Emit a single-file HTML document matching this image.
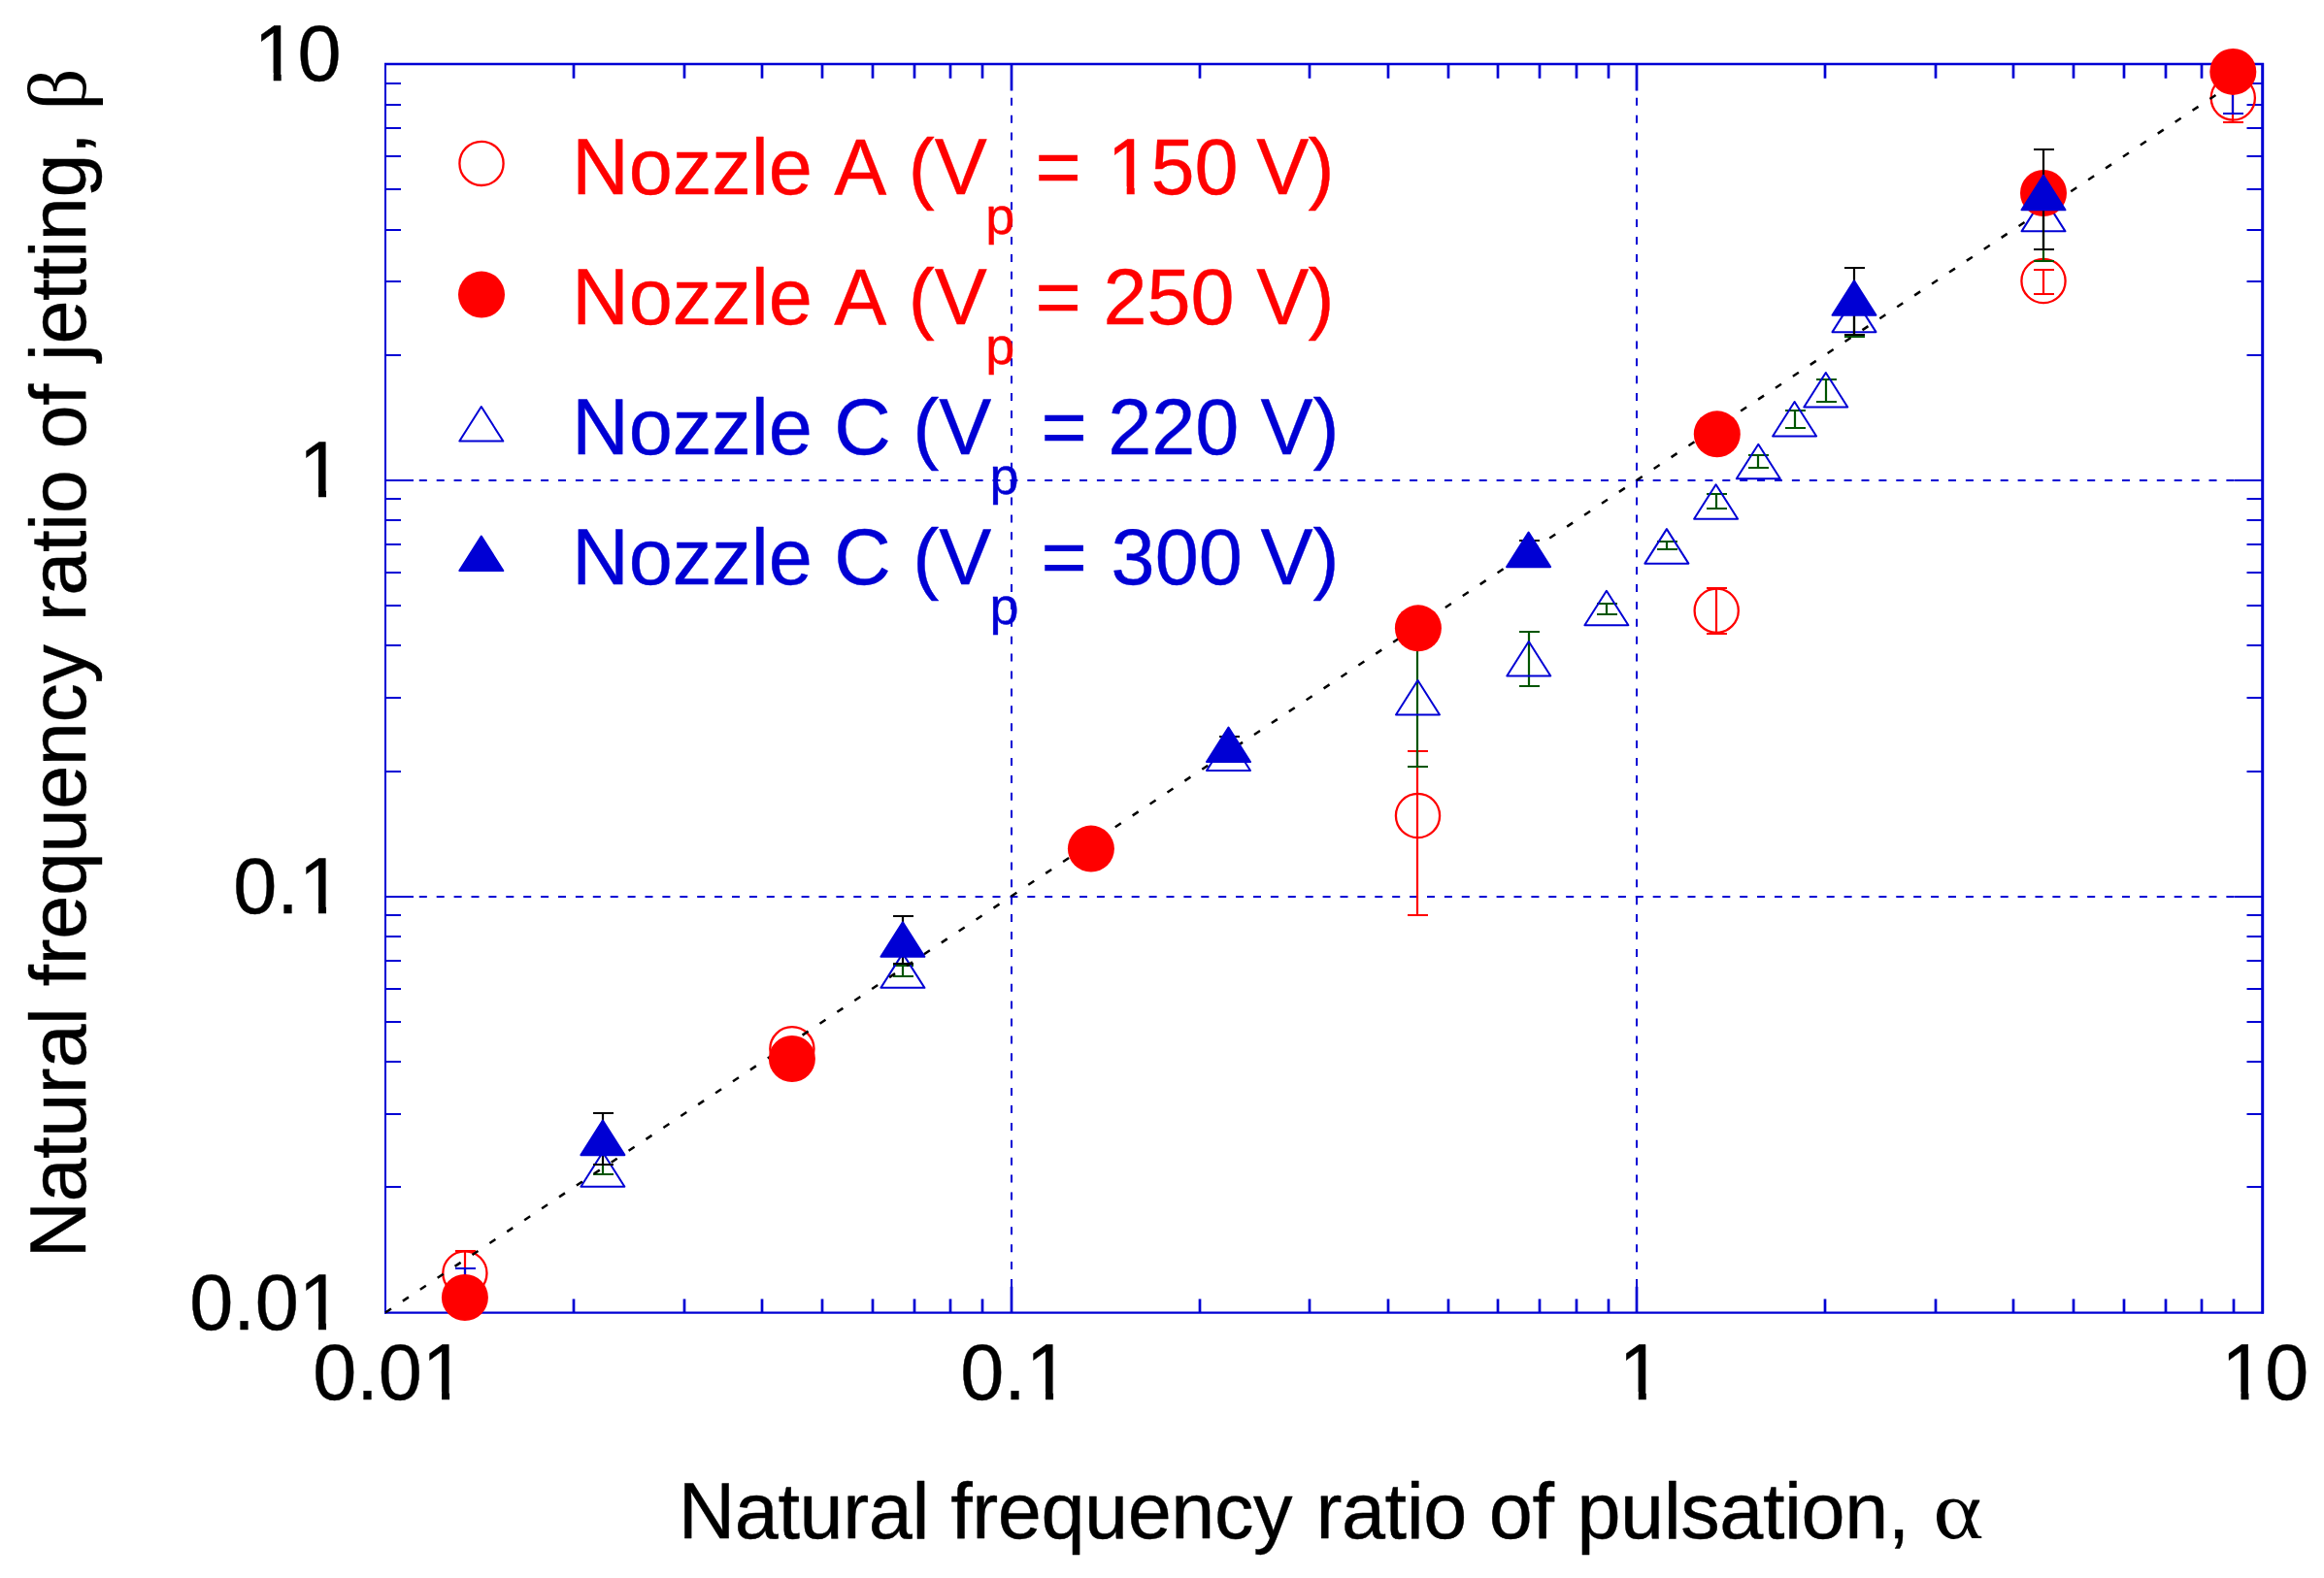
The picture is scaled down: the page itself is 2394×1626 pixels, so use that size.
<!DOCTYPE html>
<html><head><meta charset="utf-8"><title>Natural frequency ratio</title>
<style>
html,body{margin:0;padding:0;background:#fff;}
svg{display:block;}
text{font-family:"Liberation Sans",sans-serif;font-size:81px;font-kerning:none;stroke:#000;stroke-width:0.4px;stroke-linejoin:round;}
.sym{font-family:"Liberation Serif",serif;}
.sub{font-size:54px;}
</style></head><body>
<svg width="2394" height="1626" viewBox="0 0 2394 1626">
<rect width="2394" height="1626" fill="#fff"/>
<g stroke="#0000D4" stroke-width="2" stroke-dasharray="8 9.9" fill="none">
<line x1="1042.0" y1="66.0" x2="1042.0" y2="1352.5" stroke-dashoffset="1"/>
<line x1="397.0" y1="495.0" x2="2330.5" y2="495.0" stroke-dashoffset="1"/>
<line x1="1686.0" y1="66.0" x2="1686.0" y2="1352.5" stroke-dashoffset="1"/>
<line x1="397.0" y1="924.0" x2="2330.5" y2="924.0" stroke-dashoffset="1"/>
</g>
<g stroke="#0000D4" fill="none">
<path d="M397.0,65.0V1353.5" stroke-width="2"/>
<path d="M396.0,66.0H2332.0" stroke-width="2.3"/>
<path d="M396.0,1352.7H2332.0" stroke-width="2.3"/>
<path d="M2330.7,65.0V1353.5" stroke-width="3"/>
<path d="M591.0,66.0v14.7M591.0,1352.5v-14.0M705.0,66.0v14.7M705.0,1352.5v-14.0M785.0,66.0v14.7M785.0,1352.5v-14.0M847.0,66.0v14.7M847.0,1352.5v-14.0M899.0,66.0v14.7M899.0,1352.5v-14.0M942.0,66.0v14.7M942.0,1352.5v-14.0M979.0,66.0v14.7M979.0,1352.5v-14.0M1012.0,66.0v14.7M1012.0,1352.5v-14.0M1042.0,66.0v27.5M1042.0,1352.5v-26.8M1236.0,66.0v14.7M1236.0,1352.5v-14.0M1349.0,66.0v14.7M1349.0,1352.5v-14.0M1430.0,66.0v14.7M1430.0,1352.5v-14.0M1492.0,66.0v14.7M1492.0,1352.5v-14.0M1543.0,66.0v14.7M1543.0,1352.5v-14.0M1586.0,66.0v14.7M1586.0,1352.5v-14.0M1624.0,66.0v14.7M1624.0,1352.5v-14.0M1657.0,66.0v14.7M1657.0,1352.5v-14.0M1686.0,66.0v27.5M1686.0,1352.5v-26.8M1880.0,66.0v14.7M1880.0,1352.5v-14.0M1994.0,66.0v14.7M1994.0,1352.5v-14.0M2074.0,66.0v14.7M2074.0,1352.5v-14.0M2136.0,66.0v14.7M2136.0,1352.5v-14.0M2188.0,66.0v14.7M2188.0,1352.5v-14.0M2231.0,66.0v14.7M2231.0,1352.5v-14.0M2268.0,66.0v14.7M2268.0,1352.5v-14.0M2301.0,66.0v14.7M2301.0,1352.5v-14.0" stroke-width="2.7"/>
<path d="M397.0,1223.0h16M2330.5,1223.0h-16M397.0,1148.0h16M2330.5,1148.0h-16M397.0,1094.0h16M2330.5,1094.0h-16M397.0,1053.0h16M2330.5,1053.0h-16M397.0,1019.0h16M2330.5,1019.0h-16M397.0,990.0h16M2330.5,990.0h-16M397.0,965.0h16M2330.5,965.0h-16M397.0,943.0h16M2330.5,943.0h-16M397.0,924.0h29M2330.5,924.0h-29M397.0,795.0h16M2330.5,795.0h-16M397.0,719.0h16M2330.5,719.0h-16M397.0,665.0h16M2330.5,665.0h-16M397.0,624.0h16M2330.5,624.0h-16M397.0,590.0h16M2330.5,590.0h-16M397.0,561.0h16M2330.5,561.0h-16M397.0,536.0h16M2330.5,536.0h-16M397.0,514.0h16M2330.5,514.0h-16M397.0,495.0h29M2330.5,495.0h-29M397.0,366.0h16M2330.5,366.0h-16M397.0,290.0h16M2330.5,290.0h-16M397.0,237.0h16M2330.5,237.0h-16M397.0,195.0h16M2330.5,195.0h-16M397.0,161.0h16M2330.5,161.0h-16M397.0,132.0h16M2330.5,132.0h-16M397.0,108.0h16M2330.5,108.0h-16M397.0,86.0h16M2330.5,86.0h-16" stroke-width="2"/>
</g>
<text x="352.8" y="1369.5" text-anchor="end">0.01</text>
<path d="M310.75,1361.80h17.3v10.5h-17.3zM336.05,1361.80h16v10.5h-16z" fill="#fff"/>
<text x="401.0" y="1442" text-anchor="middle">0.01</text>
<path d="M437.78,1434.30h17.3v10.5h-17.3zM463.08,1434.30h16v10.5h-16z" fill="#fff"/>
<text x="352.8" y="940.7" text-anchor="end">0.1</text>
<path d="M310.75,932.97h17.3v10.5h-17.3zM336.05,932.97h16v10.5h-16z" fill="#fff"/>
<text x="1045.5" y="1442" text-anchor="middle">0.1</text>
<path d="M1059.75,1434.30h17.3v10.5h-17.3zM1085.05,1434.30h16v10.5h-16z" fill="#fff"/>
<text x="352.8" y="511.8" text-anchor="end">1</text>
<path d="M310.75,504.13h17.3v10.5h-17.3zM336.05,504.13h16v10.5h-16z" fill="#fff"/>
<text x="1690.0" y="1442" text-anchor="middle">1</text>
<path d="M1670.48,1434.30h17.3v10.5h-17.3zM1695.78,1434.30h16v10.5h-16z" fill="#fff"/>
<text x="351.5" y="83.0" text-anchor="end">10</text>
<path d="M264.40,75.30h17.3v10.5h-17.3zM289.70,75.30h16v10.5h-16z" fill="#fff"/>
<text x="2333.2" y="1442" text-anchor="middle">10</text>
<path d="M2291.15,1434.30h17.3v10.5h-17.3zM2316.45,1434.30h16v10.5h-16z" fill="#fff"/>
<text y="1585" letter-spacing="-0.42"><tspan x="698.80">Natural</tspan> <tspan x="979.20">frequency</tspan> <tspan x="1355.40">ratio</tspan> <tspan x="1533.80">of</tspan> <tspan x="1624.40">pulsation,</tspan></text>
<text class="sym" transform="translate(1996.40,1585.3) scale(1.12,1) skewX(12)" style="font-size:86px;stroke:none;font-style:italic">α</text>
<text transform="translate(87.8,0) rotate(-90)" y="0" letter-spacing="-0.42"><tspan x="-1296.60">Natural</tspan> <tspan x="-1016.40">frequency</tspan> <tspan x="-640.20">ratio</tspan> <tspan x="-462.60">of</tspan> <tspan x="-372.20">jetting,</tspan></text>
<text class="sym" transform="translate(87.8,113.80) rotate(-90)" style="font-size:85.5px;stroke:none">β</text>
<path d="M479.0,1288.0V1335.0M469.0,1289.0h21M469.0,1334.0h21" stroke="#FF0000" stroke-width="2.2" fill="none"/>
<path d="M1460.0,773.0V944.0M1450.0,774.0h21M1450.0,943.0h21" stroke="#FF0000" stroke-width="2.2" fill="none"/>
<path d="M1768.0,605.0V654.0M1758.0,606.0h21M1758.0,653.0h21" stroke="#FF0000" stroke-width="2.2" fill="none"/>
<path d="M2105.0,277.0V304.0M2095.0,278.0h21M2095.0,303.0h21" stroke="#FF0000" stroke-width="2.2" fill="none"/>
<path d="M2300.0,79.0V127.0M2290.0,80.0h21M2290.0,126.0h21" stroke="#FF0000" stroke-width="2.2" fill="none"/>
<circle cx="478.9" cy="1312.0" r="22.6" fill="none" stroke="#FF0000" stroke-width="2.3"/>
<circle cx="815.9" cy="1080.8" r="22.6" fill="none" stroke="#FF0000" stroke-width="2.3"/>
<circle cx="1460.5" cy="840.5" r="22.6" fill="none" stroke="#FF0000" stroke-width="2.3"/>
<circle cx="1768.2" cy="629.2" r="22.6" fill="none" stroke="#FF0000" stroke-width="2.3"/>
<circle cx="2105.0" cy="289.5" r="22.6" fill="none" stroke="#FF0000" stroke-width="2.3"/>
<circle cx="2300.3" cy="101.0" r="22.6" fill="none" stroke="#FF0000" stroke-width="2.3"/>
<path d="M621.0,1199.0V1211.0M611.0,1200.0h21M611.0,1210.0h21" stroke="#005500" stroke-width="2.2" fill="none"/>
<path d="M930.0,994.0V1007.0M920.0,995.0h21M920.0,1006.0h21" stroke="#005500" stroke-width="2.2" fill="none"/>
<path d="M1460.0,647.0V791.0M1450.0,648.0h21M1450.0,790.0h21" stroke="#005500" stroke-width="2.2" fill="none"/>
<path d="M1575.0,650.0V708.0M1565.0,651.0h21M1565.0,707.0h21" stroke="#005500" stroke-width="2.2" fill="none"/>
<path d="M1655.0,621.0V634.0M1645.0,622.0h21M1645.0,633.0h21" stroke="#005500" stroke-width="2.2" fill="none"/>
<path d="M1717.0,557.0V567.0M1707.0,558.0h21M1707.0,566.0h21" stroke="#005500" stroke-width="2.2" fill="none"/>
<path d="M1768.0,508.0V525.0M1758.0,509.0h21M1758.0,524.0h21" stroke="#005500" stroke-width="2.2" fill="none"/>
<path d="M1811.0,468.0V483.0M1801.0,469.0h21M1801.0,482.0h21" stroke="#005500" stroke-width="2.2" fill="none"/>
<path d="M1849.0,422.0V442.0M1839.0,423.0h21M1839.0,441.0h21" stroke="#005500" stroke-width="2.2" fill="none"/>
<path d="M1881.0,390.0V415.0M1871.0,391.0h21M1871.0,414.0h21" stroke="#005500" stroke-width="2.2" fill="none"/>
<path d="M1910.0,311.0V348.0M1900.0,312.0h21M1900.0,347.0h21" stroke="#005500" stroke-width="2.2" fill="none"/>
<path d="M2105.0,191.0V270.0M2095.0,192.0h21M2095.0,269.0h21" stroke="#005500" stroke-width="2.2" fill="none"/>
<path d="M620.9,1187.25L643.4,1222.75H598.4Z" fill="none" stroke="#0000D4" stroke-width="2" stroke-linejoin="round"/>
<path d="M929.9,982.35L952.4,1017.85H907.4Z" fill="none" stroke="#0000D4" stroke-width="2" stroke-linejoin="round"/>
<path d="M1265.5,758.45L1288.0,793.95H1243.0Z" fill="none" stroke="#0000D4" stroke-width="2" stroke-linejoin="round"/>
<path d="M1460.5,700.95L1483.0,736.45H1438.0Z" fill="none" stroke="#0000D4" stroke-width="2" stroke-linejoin="round"/>
<path d="M1574.8,660.95L1597.3,696.45H1552.3Z" fill="none" stroke="#0000D4" stroke-width="2" stroke-linejoin="round"/>
<path d="M1654.9,608.75L1677.4,644.25H1632.4Z" fill="none" stroke="#0000D4" stroke-width="2" stroke-linejoin="round"/>
<path d="M1716.9,545.15L1739.4,580.65H1694.4Z" fill="none" stroke="#0000D4" stroke-width="2" stroke-linejoin="round"/>
<path d="M1767.6,499.25L1790.1,534.75H1745.1Z" fill="none" stroke="#0000D4" stroke-width="2" stroke-linejoin="round"/>
<path d="M1811.3,457.75L1833.8,493.25H1788.8Z" fill="none" stroke="#0000D4" stroke-width="2" stroke-linejoin="round"/>
<path d="M1848.6,413.95L1871.1,449.45H1826.1Z" fill="none" stroke="#0000D4" stroke-width="2" stroke-linejoin="round"/>
<path d="M1880.8,383.95L1903.3,419.45H1858.3Z" fill="none" stroke="#0000D4" stroke-width="2" stroke-linejoin="round"/>
<path d="M1910.0,306.65L1932.5,342.15H1887.5Z" fill="none" stroke="#0000D4" stroke-width="2" stroke-linejoin="round"/>
<path d="M2105.0,202.85L2127.5,238.35H2082.5Z" fill="none" stroke="#0000D4" stroke-width="2" stroke-linejoin="round"/>
<line x1="397.0" y1="1352.5" x2="2284" y2="96.9" stroke="#000" stroke-width="2.5" stroke-dasharray="7.2 14.3" stroke-dashoffset="0"/>
<path d="M479.0,1306.0V1346.0M469.0,1307.0h21M469.0,1345.0h21" stroke="#0000D4" stroke-width="2.2" fill="none"/>
<path d="M2300.0,59.0V118.0M2290.0,60.0h21M2290.0,117.0h21" stroke="#0000D4" stroke-width="2.2" fill="none"/>
<circle cx="478.9" cy="1337.0" r="24" fill="#FF0000"/>
<circle cx="815.9" cy="1091.0" r="24" fill="#FF0000"/>
<circle cx="1123.9" cy="874.6" r="24" fill="#FF0000"/>
<circle cx="1460.9" cy="647.3" r="24" fill="#FF0000"/>
<circle cx="1768.8" cy="447.3" r="24" fill="#FF0000"/>
<circle cx="2105.0" cy="199.0" r="24" fill="#FF0000"/>
<circle cx="2300.3" cy="73.9" r="24" fill="#FF0000"/>
<path d="M621.0,1146.0V1201.0M611.0,1147.0h21M611.0,1200.0h21" stroke="#000000" stroke-width="2.2" fill="none"/>
<path d="M930.0,943.0V994.0M920.0,944.0h21M920.0,993.0h21" stroke="#000000" stroke-width="2.2" fill="none"/>
<path d="M1266.0,758.0V777.0M1256.0,759.0h21M1256.0,776.0h21" stroke="#000000" stroke-width="2.2" fill="none"/>
<path d="M1575.0,556.0V577.0M1565.0,557.0h21M1565.0,576.0h21" stroke="#000000" stroke-width="2.2" fill="none"/>
<path d="M1910.0,275.0V346.0M1900.0,276.0h21M1900.0,345.0h21" stroke="#000000" stroke-width="2.2" fill="none"/>
<path d="M2105.0,153.0V258.0M2095.0,154.0h21M2095.0,257.0h21" stroke="#000000" stroke-width="2.2" fill="none"/>
<path d="M620.9,1154.65L643.4,1190.15H598.4Z" fill="#0000D4" stroke="#0000D4" stroke-width="2" stroke-linejoin="round"/>
<path d="M929.9,950.35L952.4,985.85H907.4Z" fill="#0000D4" stroke="#0000D4" stroke-width="2" stroke-linejoin="round"/>
<path d="M1265.5,749.55L1288.0,785.05H1243.0Z" fill="#0000D4" stroke="#0000D4" stroke-width="2" stroke-linejoin="round"/>
<path d="M1574.6,548.65L1597.1,584.15H1552.1Z" fill="#0000D4" stroke="#0000D4" stroke-width="2" stroke-linejoin="round"/>
<path d="M1910.0,289.25L1932.5,324.75H1887.5Z" fill="#0000D4" stroke="#0000D4" stroke-width="2" stroke-linejoin="round"/>
<path d="M2105.0,180.85L2127.5,216.35H2082.5Z" fill="#0000D4" stroke="#0000D4" stroke-width="2" stroke-linejoin="round"/>
<circle cx="496.0" cy="168.4" r="22.6" fill="none" stroke="#FF0000" stroke-width="2.3"/>
<circle cx="496.0" cy="303.6" r="24" fill="#FF0000"/>
<path d="M495.8,419.05L518.3,454.55H473.3Z" fill="none" stroke="#0000D4" stroke-width="2" stroke-linejoin="round"/>
<path d="M495.8,552.55L518.3,588.05H473.3Z" fill="#0000D4" stroke="#0000D4" stroke-width="2" stroke-linejoin="round"/>
<text style="fill:#FF0000;stroke:#FF0000"><tspan x="589.20" y="199.9">Nozzle A (V</tspan><tspan class="sub" x="1015.20" y="240.7">p</tspan><tspan x="1066.60" y="199.9">=</tspan><tspan x="1140.40" y="199.9">150</tspan><tspan x="1294.20" y="199.9">V</tspan><tspan x="1347.60" y="199.9">)</tspan></text>
<text style="fill:#FF0000;stroke:#FF0000"><tspan x="589.20" y="334.2">Nozzle A (V</tspan><tspan class="sub" x="1015.20" y="375.0">p</tspan><tspan x="1066.60" y="334.2">=</tspan><tspan x="1136.40" y="334.2">250</tspan><tspan x="1294.20" y="334.2">V</tspan><tspan x="1347.60" y="334.2">)</tspan></text>
<text style="fill:#0000D4;stroke:#0000D4"><tspan x="589.20" y="468.4">Nozzle C (V</tspan><tspan class="sub" x="1019.40" y="509.2">p</tspan><tspan x="1072.40" y="468.4">=</tspan><tspan x="1141.20" y="468.4">220</tspan><tspan x="1298.60" y="468.4">V</tspan><tspan x="1352.40" y="468.4">)</tspan></text>
<text style="fill:#0000D4;stroke:#0000D4"><tspan x="589.20" y="602.4">Nozzle C (V</tspan><tspan class="sub" x="1019.40" y="643.2">p</tspan><tspan x="1072.40" y="602.4">=</tspan><tspan x="1144.60" y="602.4">300</tspan><tspan x="1298.60" y="602.4">V</tspan><tspan x="1352.40" y="602.4">)</tspan></text>
<path d="M1143.40,192.20h17.3v10.5h-17.3zM1168.70,192.20h16v10.5h-16z" fill="#fff"/>
</svg></body></html>
